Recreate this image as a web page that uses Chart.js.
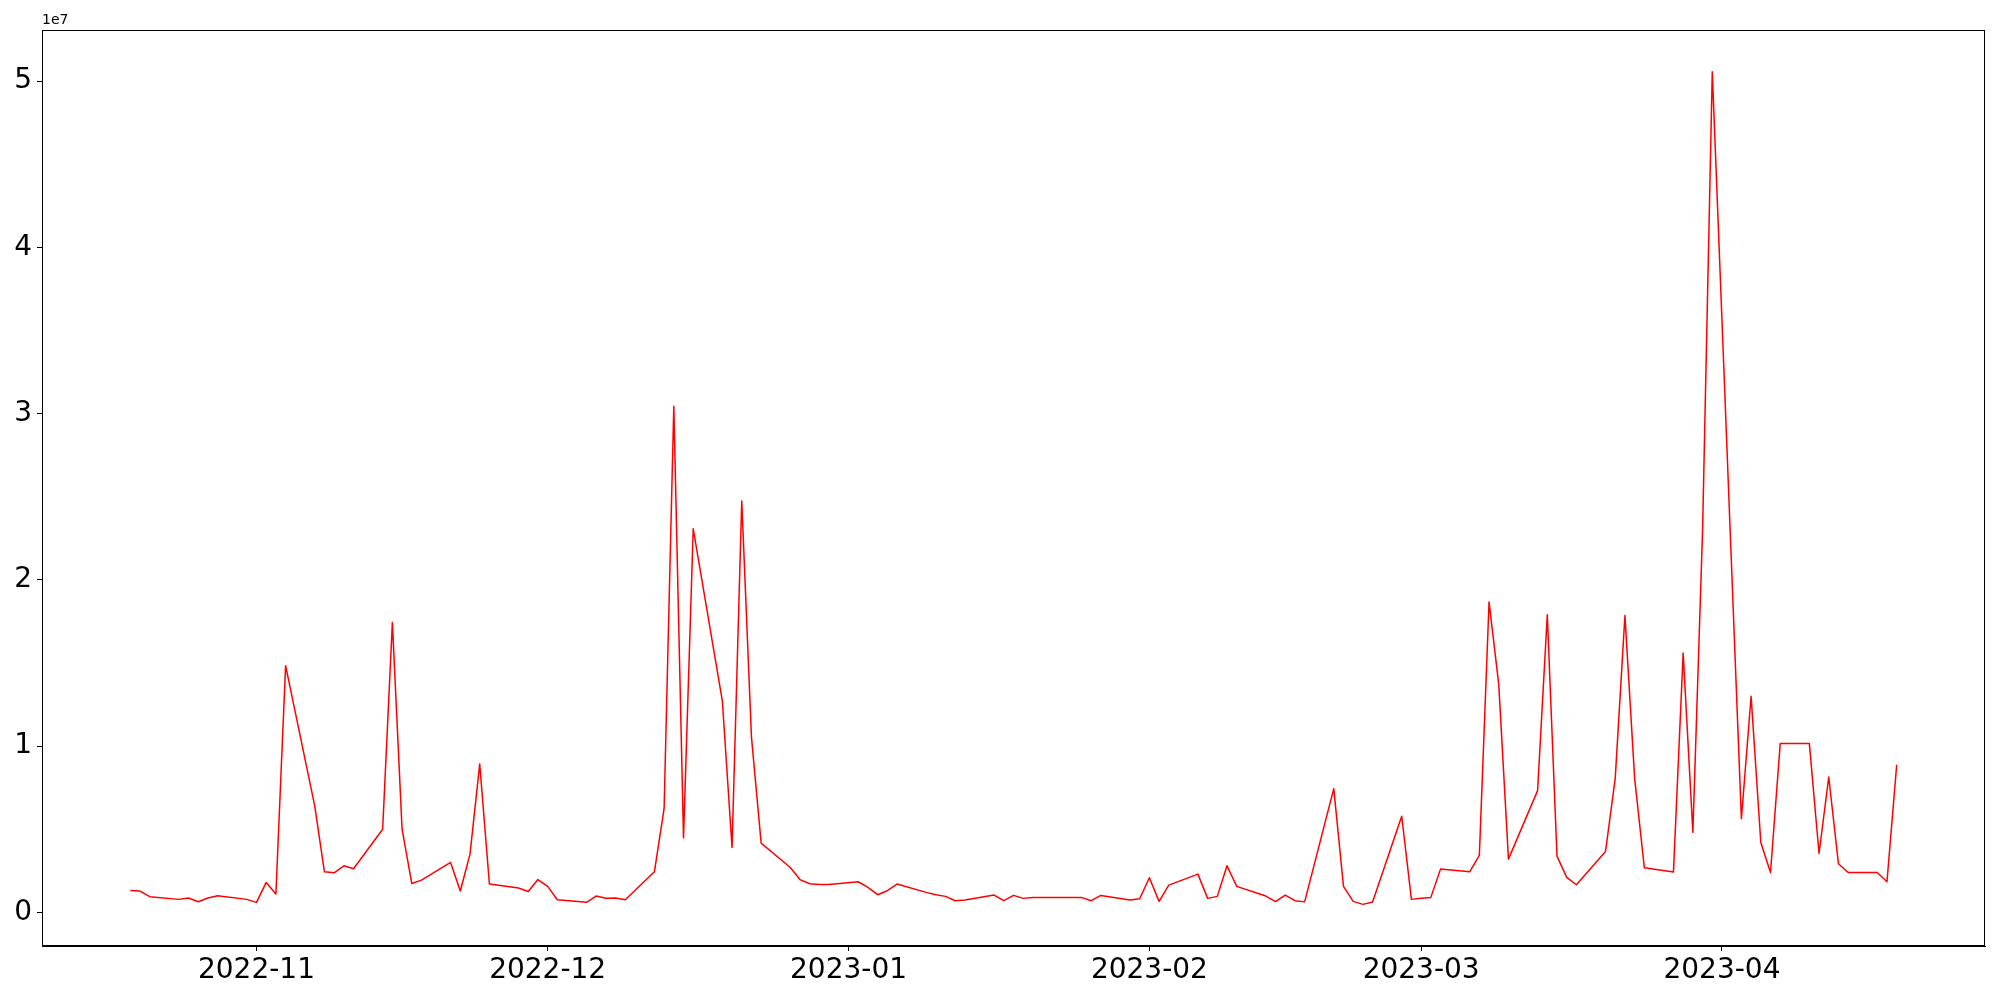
<!DOCTYPE html>
<html>
<head>
<meta charset="utf-8">
<script src="https://cdn.jsdelivr.net/npm/chart.js@4.4.0/dist/chart.umd.min.js"></script>
<style>
    html, body { margin: 0; padding: 0; background: #fff; }
    #wrap { width: 2000px; height: 1000px; }
</style>
</head>
<body>
<div id="wrap"><canvas id="grafico" width="2000" height="1000"></canvas></div>
<script>
// Dados (dias úteis)
const datas = [
    '2022-10-19', '2022-10-20', '2022-10-21', '2022-10-24', '2022-10-25', '2022-10-26', '2022-10-27', '2022-10-28', '2022-10-31',
    '2022-11-01', '2022-11-02', '2022-11-03', '2022-11-04', '2022-11-07', '2022-11-08', '2022-11-09', '2022-11-10', '2022-11-11',
    '2022-11-14', '2022-11-15', '2022-11-16', '2022-11-17', '2022-11-18', '2022-11-21', '2022-11-22', '2022-11-23', '2022-11-24',
    '2022-11-25', '2022-11-28', '2022-11-29', '2022-11-30',
    '2022-12-01', '2022-12-02', '2022-12-05', '2022-12-06', '2022-12-07', '2022-12-08', '2022-12-09', '2022-12-12', '2022-12-13',
    '2022-12-14', '2022-12-15', '2022-12-16', '2022-12-19', '2022-12-20', '2022-12-21', '2022-12-22', '2022-12-23', '2022-12-26',
    '2022-12-27', '2022-12-28', '2022-12-29', '2022-12-30',
    '2023-01-02', '2023-01-03', '2023-01-04', '2023-01-05', '2023-01-06', '2023-01-09', '2023-01-10', '2023-01-11', '2023-01-12',
    '2023-01-13', '2023-01-16', '2023-01-17', '2023-01-18', '2023-01-19', '2023-01-20', '2023-01-23', '2023-01-24', '2023-01-25',
    '2023-01-26', '2023-01-27', '2023-01-30', '2023-01-31',
    '2023-02-01', '2023-02-02', '2023-02-03', '2023-02-06', '2023-02-07', '2023-02-08', '2023-02-09', '2023-02-10', '2023-02-13',
    '2023-02-14', '2023-02-15', '2023-02-16', '2023-02-17', '2023-02-20', '2023-02-21', '2023-02-22', '2023-02-23', '2023-02-24',
    '2023-02-27', '2023-02-28',
    '2023-03-01', '2023-03-02', '2023-03-03', '2023-03-06', '2023-03-07', '2023-03-08', '2023-03-09', '2023-03-10', '2023-03-13',
    '2023-03-14', '2023-03-15', '2023-03-16', '2023-03-17', '2023-03-20', '2023-03-21', '2023-03-22', '2023-03-23', '2023-03-24',
    '2023-03-27', '2023-03-28', '2023-03-29', '2023-03-30', '2023-03-31',
    '2023-04-03', '2023-04-04', '2023-04-05', '2023-04-06', '2023-04-07', '2023-04-10', '2023-04-11', '2023-04-12', '2023-04-13',
    '2023-04-14', '2023-04-17', '2023-04-18', '2023-04-19'
];

const valores = [
    1320000, 1280000, 940000, 780000, 860000, 640000, 860000, 1000000, 780000,
    600000, 1800000, 1100000, 14840000, 6400000, 2440000, 2380000, 2800000, 2620000,
    5000000, 17440000, 5000000, 1740000, 1940000, 3000000, 1280000, 3500000, 8920000,
    1700000, 1460000, 1250000, 1970000,
    1560000, 760000, 600000, 980000, 850000, 860000, 760000, 2440000, 6250000,
    30440000, 4480000, 23070000, 12720000, 3900000, 24750000, 10540000, 4160000, 2700000,
    1970000, 1720000, 1670000, 1680000,
    1840000, 1500000, 1060000, 1300000, 1700000, 1200000, 1060000, 960000, 700000,
    740000, 1040000, 700000, 1020000, 840000, 900000, 900000, 900000, 900000,
    700000, 1020000, 740000, 820000,
    2080000, 660000, 1640000, 2300000, 840000, 960000, 2800000, 1560000, 980000,
    640000, 1040000, 700000, 630000, 7440000, 1560000, 660000, 480000, 620000,
    5780000, 780000,
    850000, 900000, 2600000, 2440000, 3420000, 18670000, 13700000, 3200000, 7320000,
    17900000, 3380000, 2100000, 1660000, 3660000, 8060000, 17860000, 8060000, 2680000,
    2420000, 15600000, 4800000, 23000000, 50570000,
    5630000, 13000000, 4200000, 2400000, 10160000, 10160000, 3540000, 8140000, 2920000,
    2400000, 2400000, 1840000, 8870000
];

// Ticks
const ticksMeses = ['2022-11-01', '2022-12-01', '2023-01-01', '2023-02-01', '2023-03-01', '2023-04-01'];
const ticksY = [0, 1e7, 2e7, 3e7, 4e7, 5e7];
const fatorY = 1e7;
const textoFator = '1e7';

const fonte = 'DejaVu Sans';

const pontos = datas.map((d, i) => ({ x: Date.parse(d), y: valores[i] }));

// Margens de 5% como no matplotlib
const xs = pontos.map(p => p.x);
const xMin = Math.min(...xs), xMax = Math.max(...xs);
const yMin = Math.min(...valores), yMax = Math.max(...valores);
const margemX = (xMax - xMin) * 0.05;
const margemY = (yMax - yMin) * 0.05;

// Moldura completa + texto do fator de escala
const molduraPlugin = {
    id: 'moldura',
    afterDraw(chart) {
        const { ctx, chartArea } = chart;
        ctx.save();
        ctx.strokeStyle = '#000';
        ctx.lineWidth = 1;
        ctx.strokeRect(chartArea.left + 0.5, chartArea.top + 0.5,
            chartArea.right - chartArea.left - 1, chartArea.bottom - chartArea.top - 1);
        ctx.fillStyle = '#000';
        ctx.font = '14px "' + fonte + '"';
        ctx.textAlign = 'left';
        ctx.textBaseline = 'bottom';
        ctx.fillText(textoFator, chartArea.left, chartArea.top - 3);
        ctx.restore();
    }
};

new Chart(document.getElementById('grafico'), {
    type: 'line',
    data: {
        datasets: [{
            data: pontos,
            borderColor: '#ff0000',
            borderWidth: 1.5,
            borderJoinStyle: 'round',
            pointRadius: 0,
            tension: 0,
            fill: false
        }]
    },
    options: {
        responsive: false,
        animation: false,
        devicePixelRatio: 1,
        layout: { padding: { top: 30, right: 15, bottom: 0, left: 0 } },
        plugins: {
            legend: { display: false },
            tooltip: { enabled: false }
        },
        scales: {
            x: {
                type: 'linear',
                min: xMin - margemX,
                max: xMax + margemX,
                afterBuildTicks: (s) => { s.ticks = ticksMeses.map(m => ({ value: Date.parse(m) })); },
                afterFit: (s) => { s.height = 54; },
                grid: { drawOnChartArea: false, drawTicks: true, tickLength: 5, tickColor: '#000' },
                border: { display: true, color: '#000', width: 1 },
                ticks: {
                    autoSkip: false,
                    maxRotation: 0,
                    padding: 3,
                    color: '#000',
                    font: { family: fonte, size: 28 },
                    callback: (v) => new Date(v).toISOString().slice(0, 7)
                }
            },
            y: {
                min: yMin - margemY,
                max: yMax + margemY,
                afterBuildTicks: (s) => { s.ticks = ticksY.map(v => ({ value: v })); },
                afterFit: (s) => { s.width = 42; },
                grid: { drawOnChartArea: false, drawTicks: true, tickLength: 5, tickColor: '#000' },
                border: { display: true, color: '#000', width: 1 },
                ticks: {
                    padding: 5,
                    color: '#000',
                    font: { family: fonte, size: 28 },
                    callback: (v) => String(Math.round(v / fatorY))
                }
            }
        }
    },
    plugins: [molduraPlugin]
});
</script>
</body>
</html>
